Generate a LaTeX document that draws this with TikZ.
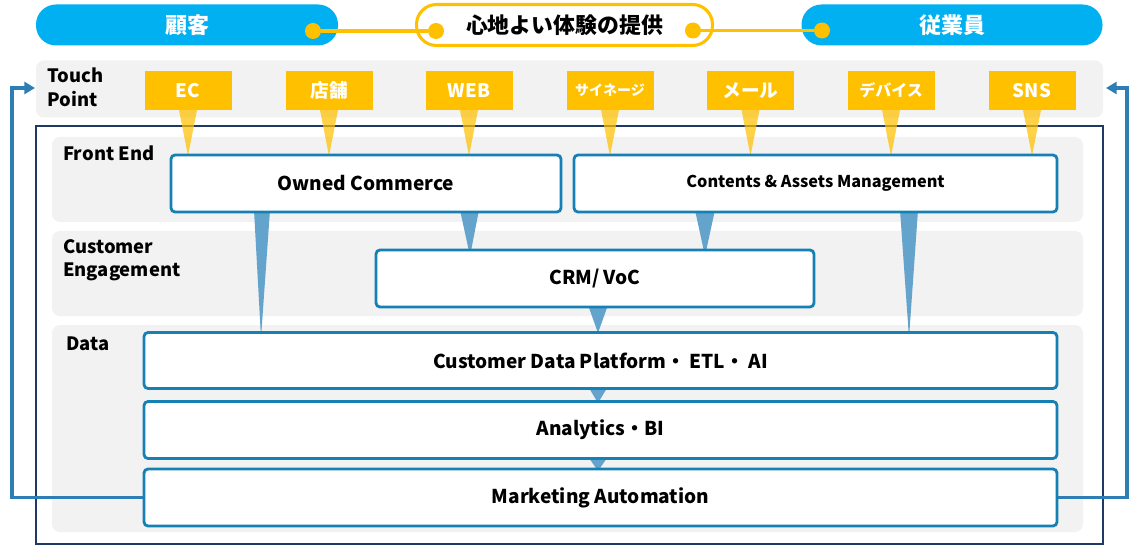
\documentclass[tikz,border=0pt]{standalone}
\usepackage{fontspec}
\setmainfont{Noto Sans CJK JP}
\usetikzlibrary{arrows.meta}
\definecolor{cyanP}{HTML}{00B0F0}
\definecolor{orng}{HTML}{FFC000}
\definecolor{bandG}{HTML}{F2F2F2}
\definecolor{navyL}{HTML}{1F3864}
\definecolor{bxB}{HTML}{1580B4}
\definecolor{triB}{HTML}{64A4CC}
\definecolor{arrB}{HTML}{2E7DB5}
\tikzset{
  sz/.style 2 args={minimum width=#1*0.75pt, minimum height=#2*0.75pt},
  pill/.style={fill=cyanP, rounded corners=15pt, inner sep=0pt, text=white, font=\bfseries\fontsize{16.5}{18}\selectfont},
  cpill/.style={fill=white, draw=orng, line width=2.3pt, rounded corners=15pt, inner sep=0pt, font=\bfseries\fontsize{16.4}{18}\selectfont},
  dot/.style={circle, fill=orng, minimum size=12pt, inner sep=0pt},
  band/.style={fill=bandG, rounded corners=6pt, inner sep=0pt},
  tp/.style={fill=orng, inner sep=0pt, text=white},
  tail/.style={fill=orng, fill opacity=0.72},
  lbl/.style={align=left, anchor=north west, inner sep=0pt, font=\bfseries\fontsize{13.8}{17.5}\selectfont},
  bx/.style={fill=white, draw=bxB, line width=2.1pt, rounded corners=3pt, inner sep=0pt, font=\bfseries\fontsize{14.3}{16}\selectfont},
  tri/.style={fill=triB},
  fb/.style={draw=arrB, line width=2.4pt, -{Triangle[length=8pt,width=9pt]}}
}
\begin{document}
\begin{tikzpicture}[x=0.75pt,y=-0.75pt]
\useasboundingbox (0,0) rectangle (1131,545);
% top pills
\node[pill, sz={302}{41}] (cust) at (187,25) {顧客};
\node[pill, sz={301}{41}] (emp) at (952,25) {従業員};
\node[cpill, sz={296}{41}] (exp) at (564.5,25) {心地よい体験の提供};
\node[dot] (d1) at (313,31) {};
\node[dot] (d2) at (436,31) {};
\node[dot] (d3) at (693,30.5) {};
\node[dot] (d4) at (822,30.5) {};
\draw[orng, line width=2.4pt] (d1) -- (d2);
\draw[orng, line width=2.4pt] (d3) -- (d4);
% touch point band
\node[band, sz={1067}{57}] (tband) at (569.5,89) {};
\node[lbl] (tlbl) at (47,68) {Touch\\Point};
% outer frame
\draw[navyL, line width=1.1pt] (36,126) rectangle (1103,544);
% layer bands
\node[band, sz={1031}{85}] (fband) at (567.5,179.5) {};
\node[band, sz={1031}{85}] (cband) at (567.5,273.5) {};
\node[band, sz={1031}{207}] (dband) at (567.5,428.5) {};
\node[lbl] (flbl) at (63,146) {Front End};
\node[lbl] (clbl) at (63,239) {Customer\\Engagement};
\node[lbl] (dlbl) at (66,337) {Data};
% touch point boxes
\foreach \n/\x/\t/\f in {ec/188/EC/14, st/329/店舗/14, web/469/WEB/14, sig/610/サイネージ/10.5, mail/750.5/メール/14, dev/891/デバイス/12, sns/1032/SNS/14}{
  \node[tp, sz={87}{39}, font=\bfseries\fontsize{\f}{15}\selectfont] (\n) at (\x,90.5) {\t};
  \fill[tail] (\x-9,110) -- (\x+9,110) -- (\x,156) -- cycle;
}
% blue connector triangles (behind boxes)
\fill[tri] (254,210) -- (270,210) -- (261,338) -- cycle;
\fill[tri] (460,210) -- (479,210) -- (470,256) -- cycle;
\fill[tri] (695,210) -- (715,210) -- (705,256) -- cycle;
\fill[tri] (900,210) -- (918,210) -- (909,338) -- cycle;
\fill[tri] (588,305) -- (608,305) -- (598,333) -- cycle;
\fill[tri] (589,388) -- (607,388) -- (598,403) -- cycle;
\fill[tri] (589,458) -- (607,458) -- (598,471) -- cycle;
% boxes
\node[bx, sz={390}{57}] (oc) at (366,183.5) {Owned Commerce};
\node[bx, sz={483}{57}, font=\bfseries\fontsize{12.2}{14}\selectfont] (cam) at (815.5,183.5) {Contents \& Assets Management};
\node[bx, sz={438}{57}] (crm) at (595,278.5) {CRM/ VoC};
\node[bx, sz={913}{56}] (cdp) at (600.5,360.5) {Customer Data Platform・ ETL・ AI};
\node[bx, sz={913}{57}] (ab) at (600.5,430) {Analytics・BI};
\node[bx, sz={913}{57}] (ma) at (600.5,497.5) {Marketing Automation};
% feedback arrows
\coordinate (lt) at (35,88);
\coordinate (rt) at (1106,88);
\draw[fb] (ma.west) -- (12,497.5) -- (12,88) -- (lt);
\draw[fb] (ma.east) -- (1127,497.5) -- (1127,88) -- (rt);
\end{tikzpicture}
\end{document}
